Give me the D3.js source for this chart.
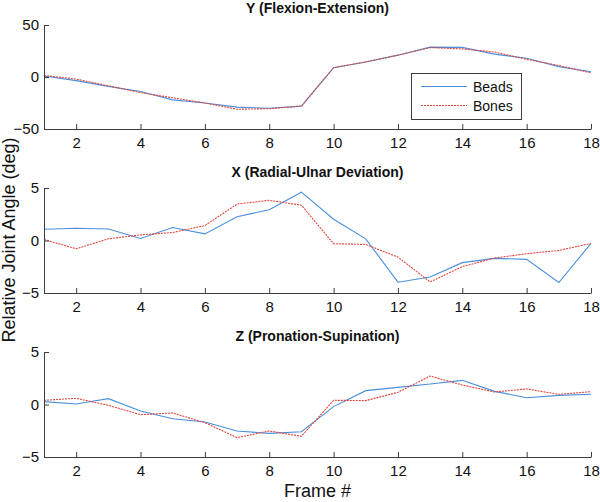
<!DOCTYPE html>
<html>
<head>
<meta charset="utf-8">
<script src="https://cdn.jsdelivr.net/npm/d3@7"></script>
<style>
  body { margin: 0; background: #fff; }
  svg { display: block; font-family: Arial, "Liberation Sans", sans-serif; }
</style>
</head>
<body>
<svg id="chart" width="600" height="502"></svg>
<script>
const frames = [1,2,3,4,5,6,7,8,9,10,11,12,13,14,15,16,17,18];
const xTicks = [2,4,6,8,10,12,14,16,18];

const titles = ["Y (Flexion-Extension)", "X (Radial-Ulnar Deviation)", "Z (Pronation-Supination)"];
const seriesNames = ["Beads", "Bones"];

const yBeads = [1,-3.5,-9,-14,-22,-25,-29,-30,-28,9,14.5,21,28.7,28.5,22,18,10,5];
const yBones = [1.5,-2,-8.5,-15,-20,-25,-31,-30.5,-28,9,14.5,21,28.3,27,24,17,11,4];

const xBeads = [1.07,1.17,1.1,0.19,1.23,0.63,2.27,2.93,4.6,2.02,0.16,-3.97,-3.47,-2.11,-1.7,-1.8,-4.0,-0.28];
const xBones = [0.1,-0.79,0.16,0.54,0.76,1.42,3.47,3.83,3.36,-0.3,-0.38,-1.58,-3.94,-2.49,-1.67,-1.26,-0.95,-0.28];

const zBeads = [0.27,0.05,0.56,-0.62,-1.35,-1.67,-2.52,-2.75,-2.59,-0.2,1.32,1.63,1.95,2.3,1.25,0.65,0.87,0.97];
const zBones = [0.4,0.59,-0.08,-0.97,-0.81,-1.73,-3.16,-2.52,-3.03,0.4,0.37,1.16,2.71,1.86,1.19,1.48,0.97,1.22];

const yDomains = [[-50,50],[-5,5],[-5,5]];
const yTickVals = [[-50,0,50],[-5,0,5],[-5,0,5]];

const panels = [
  {title: titles[0], beads: yBeads, bones: yBones, dom: yDomains[0], ticks: yTickVals[0], top: 25, bottom: 129, titleY: 12.5},
  {title: titles[1], beads: xBeads, bones: xBones, dom: yDomains[1], ticks: yTickVals[1], top: 188, bottom: 293, titleY: 176.5},
  {title: titles[2], beads: zBeads, bones: zBones, dom: yDomains[2], ticks: yTickVals[2], top: 352, bottom: 457, titleY: 340.5}
];

const colors = {Beads: "#4a8fdc", Bones: "#e0463c"};
const dashes = {Beads: null, Bones: "2,1"};

const svg = d3.select("#chart");
const left = 44, right = 591;
const x = d3.scaleLinear().domain([1,18]).range([left, right]);
const axisColor = "#3c3c3c";

panels.forEach((p, i) => {
  const y = d3.scaleLinear().domain(p.dom).range([p.bottom, p.top]);
  const g = svg.append("g");

  [["Beads", p.beads], ["Bones", p.bones]].forEach(([name, vals]) => {
    const line = d3.line().x((d, k) => x(frames[k])).y(d => y(d));
    g.append("path")
      .datum(vals)
      .attr("fill", "none")
      .attr("stroke", colors[name])
      .attr("stroke-width", 1.1)
      .attr("stroke-dasharray", dashes[name])
      .attr("d", line);
  });

  const xa = g.append("g")
    .attr("transform", `translate(0,${p.bottom})`)
    .call(d3.axisBottom(x).tickValues(xTicks).tickSizeInner(-5).tickSizeOuter(0).tickPadding(8));
  const ya = g.append("g")
    .attr("transform", `translate(${left},0)`)
    .call(d3.axisLeft(y).tickValues(p.ticks).tickSizeInner(-5).tickSizeOuter(0).tickPadding(5));

  [xa, ya].forEach(a => {
    a.select(".domain").attr("stroke", axisColor);
    a.selectAll(".tick line").attr("stroke", axisColor);
    a.selectAll(".tick text").attr("fill", "#111").style("font-size", "15px").style("font-family", "Arial, 'Liberation Sans', sans-serif");
  });

  svg.append("text")
    .attr("x", (left + right) / 2)
    .attr("y", p.titleY)
    .attr("text-anchor", "middle")
    .style("font-size", "14px")
    .style("font-weight", "bold")
    .attr("fill", "#111")
    .text(p.title);
});

const lg = svg.append("g");
lg.append("rect")
  .attr("x", 411.5).attr("y", 73.5).attr("width", 110).attr("height", 46)
  .attr("fill", "#fff").attr("stroke", axisColor).attr("stroke-width", 1);
seriesNames.forEach((name, k) => {
  const cy = 86.5 + k * 19;
  lg.append("line")
    .attr("x1", 421).attr("x2", 467).attr("y1", cy).attr("y2", cy)
    .attr("stroke", colors[name]).attr("stroke-width", 1.2)
    .attr("stroke-dasharray", dashes[name]);
  lg.append("text")
    .attr("x", 473).attr("y", cy + 5)
    .style("font-size", "14px")
    .attr("fill", "#111")
    .text(name);
});

svg.append("text")
  .attr("x", (left + right) / 2)
  .attr("y", 497)
  .attr("text-anchor", "middle")
  .style("font-size", "18px")
  .attr("fill", "#111")
  .text("Frame #");

svg.append("text")
  .attr("transform", "translate(15,240) rotate(-90)")
  .attr("text-anchor", "middle")
  .style("font-size", "18px")
  .attr("fill", "#111")
  .text("Relative Joint Angle (deg)");
</script>
</body>
</html>
